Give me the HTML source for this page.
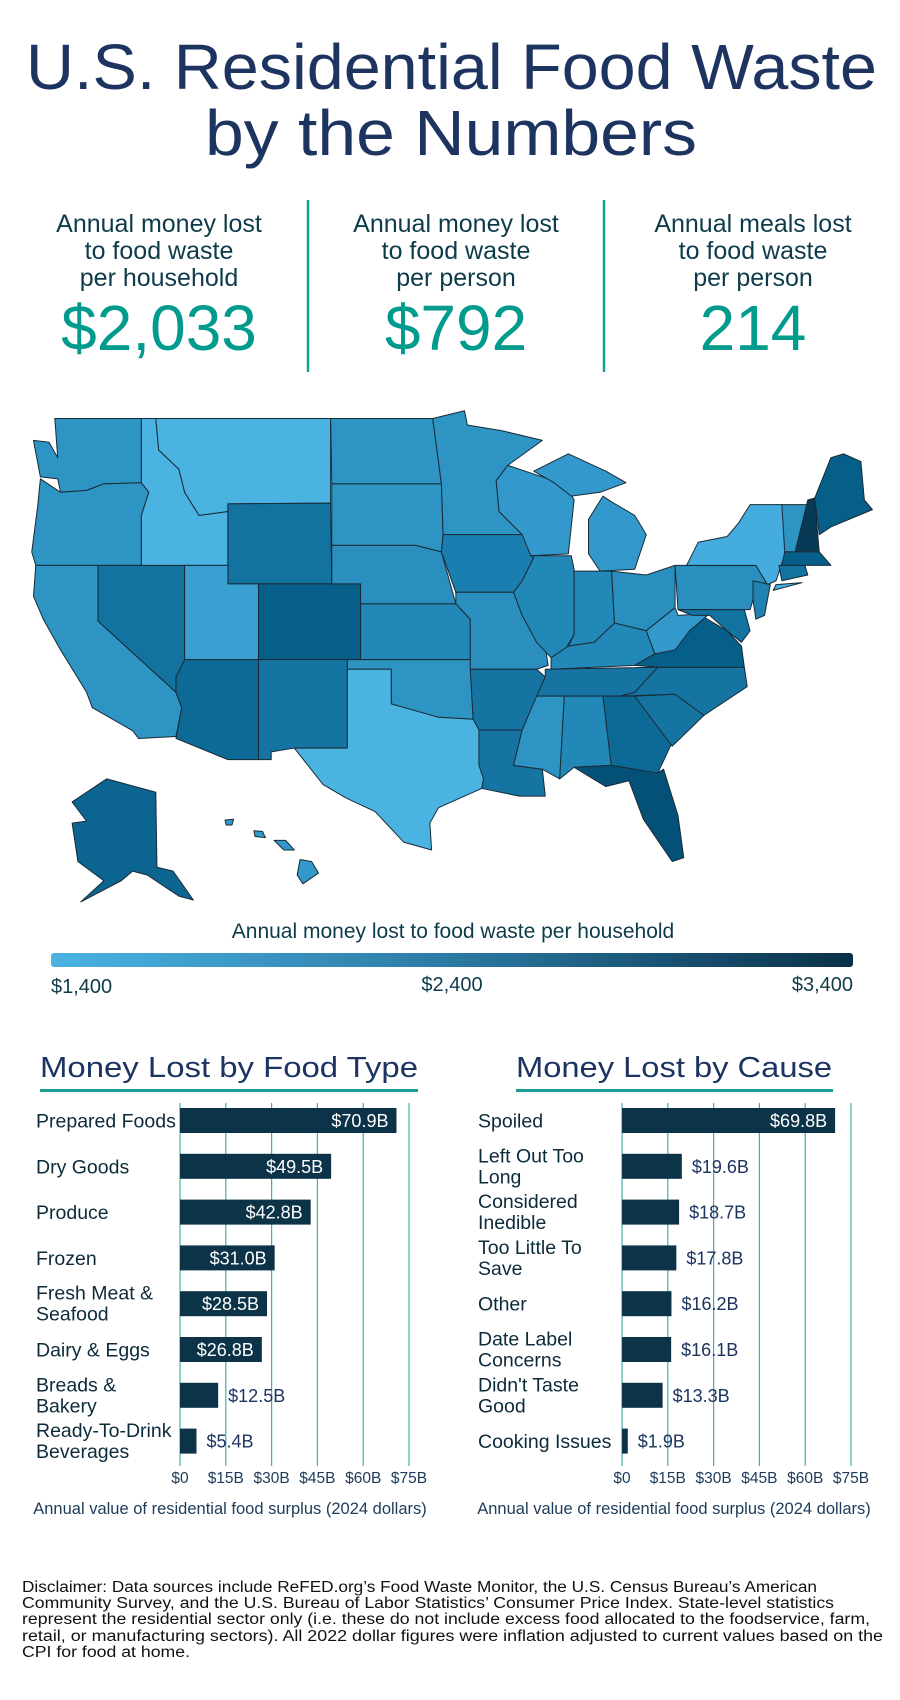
<!DOCTYPE html>
<html><head><meta charset="utf-8"><style>
html,body{margin:0;padding:0;background:#fff}
svg{display:block}
text{font-family:"Liberation Sans",sans-serif}
</style></head><body>
<svg id="page" width="900" height="1700" viewBox="0 0 900 1700" xmlns="http://www.w3.org/2000/svg">
<defs>
<linearGradient id="lg" x1="0" x2="1" y1="0" y2="0">
<stop offset="0" stop-color="#4ab3e2"/><stop offset="0.5" stop-color="#2b7aa3"/><stop offset="1" stop-color="#0a3048"/>
</linearGradient>
</defs>
<rect width="900" height="1700" fill="#fff"/>
<g fill="#1d3461">
<text x="26" y="89" font-size="64" textLength="851" lengthAdjust="spacingAndGlyphs">U.S. Residential Food Waste</text>
<text x="205" y="155" font-size="64" textLength="492" lengthAdjust="spacingAndGlyphs">by the Numbers</text>
</g>
<g text-anchor="middle">
<g>
<text x="159" y="232" font-size="25" fill="#0d3b4a">Annual money lost</text>
<text x="159" y="259" font-size="25" fill="#0d3b4a">to food waste</text>
<text x="159" y="286" font-size="25" fill="#0d3b4a">per household</text>
<text x="159" y="350" font-size="64" fill="#009b8d">$2,033</text>
</g>
<line x1="308" y1="200" x2="308" y2="372" stroke="#12a092" stroke-width="2.5"/>
<g>
<text x="456" y="232" font-size="25" fill="#0d3b4a">Annual money lost</text>
<text x="456" y="259" font-size="25" fill="#0d3b4a">to food waste</text>
<text x="456" y="286" font-size="25" fill="#0d3b4a">per person</text>
<text x="456" y="350" font-size="64" fill="#009b8d">$792</text>
</g>
<line x1="604" y1="200" x2="604" y2="372" stroke="#12a092" stroke-width="2.5"/>
<g>
<text x="753" y="232" font-size="25" fill="#0d3b4a">Annual meals lost</text>
<text x="753" y="259" font-size="25" fill="#0d3b4a">to food waste</text>
<text x="753" y="286" font-size="25" fill="#0d3b4a">per person</text>
<text x="753" y="350" font-size="64" fill="#009b8d">214</text>
</g>
</g>

<g id="map" transform="translate(0,400) scale(0.577,0.3846)" stroke="#1a2a35" stroke-width="1" stroke-linejoin="round"></g>

<g>
<text x="453" y="938" font-size="21" text-anchor="middle" fill="#0d3b4a">Annual money lost to food waste per household</text>
<rect x="51" y="953" width="802" height="14" rx="3" fill="url(#lg)"/>
<text x="51" y="993" font-size="20" fill="#0d3b4a">$1,400</text>
<text x="452" y="991" font-size="20" text-anchor="middle" fill="#0d3b4a">$2,400</text>
<text x="853" y="991" font-size="20" text-anchor="end" fill="#0d3b4a">$3,400</text>
</g>

<g id="chart1">
<text x="40" y="1077" font-size="29" fill="#1d3461" textLength="378" lengthAdjust="spacingAndGlyphs">Money Lost by Food Type</text>
<rect x="40" y="1089" width="378" height="3" fill="#1a9e91"/>
<text x="230" y="1514" font-size="16.5" text-anchor="middle" fill="#1d3b5a">Annual value of residential food surplus (2024 dollars)</text>
</g>
<g id="chart2">
<text x="516" y="1077" font-size="29" fill="#1d3461" textLength="316" lengthAdjust="spacingAndGlyphs">Money Lost by Cause</text>
<rect x="516" y="1089" width="317" height="3" fill="#1a9e91"/>
<text x="674" y="1514" font-size="16.5" text-anchor="middle" fill="#1d3b5a">Annual value of residential food surplus (2024 dollars)</text>
</g>

<g font-size="15.5" fill="#111">
<text x="22" y="1592" textLength="795" lengthAdjust="spacingAndGlyphs">Disclaimer: Data sources include ReFED.org’s Food Waste Monitor, the U.S. Census Bureau’s American</text>
<text x="22" y="1608" textLength="812" lengthAdjust="spacingAndGlyphs">Community Survey, and the U.S. Bureau of Labor Statistics’ Consumer Price Index. State-level statistics</text>
<text x="22" y="1624" textLength="848" lengthAdjust="spacingAndGlyphs">represent the residential sector only (i.e. these do not include excess food allocated to the foodservice, farm,</text>
<text x="22" y="1641" textLength="861" lengthAdjust="spacingAndGlyphs">retail, or manufacturing sectors). All 2022 dollar figures were inflation adjusted to current values based on the</text>
<text x="22" y="1657" textLength="168" lengthAdjust="spacingAndGlyphs">CPI for food at home.</text>
</g>
</svg>
<script>
const foodCategories = [["Prepared Foods"],["Dry Goods"],["Produce"],["Frozen"],["Fresh Meat &","Seafood"],["Dairy & Eggs"],["Breads &","Bakery"],["Ready-To-Drink","Beverages"]];
const foodValues = [70.9,49.5,42.8,31.0,28.5,26.8,12.5,5.4];
const causeCategories = [["Spoiled"],["Left Out Too","Long"],["Considered","Inedible"],["Too Little To","Save"],["Other"],["Date Label","Concerns"],["Didn't Taste","Good"],["Cooking Issues"]];
const causeValues = [69.8,19.6,18.7,17.8,16.2,16.1,13.3,1.9];
const tickValues = [0,15,30,45,60,75];
const tickLabels = ["$0","$15B","$30B","$45B","$60B","$75B"];

const NS = "http://www.w3.org/2000/svg";
function mk(tag, attrs, parent){const e=document.createElementNS(NS,tag);for(const k in attrs)e.setAttribute(k,attrs[k]);parent.appendChild(e);return e;}

function drawChart(gid, cats, vals, x0, labelX, prefix){
  const g = document.getElementById(gid);
  const pxPer = 45.8/15;
  const xs = v => x0 + v*pxPer;
  const top = 1108, step = 45.8, bh = 25;
  const ys = i => top + i*step;
  tickValues.forEach((t,i)=>{
    const l = mk('line',{x1:xs(t),x2:xs(t),y1:1103,y2:1466,stroke:'#3db3a6','stroke-width':1.2},g);
    
    
    const tx = mk('text',{x:xs(t),y:1483,'font-size':15.5,'text-anchor':'middle',fill:'#1d3b5a'},g);
    tx.textContent = tickLabels[i];
    
    
  });
  vals.forEach((v,i)=>{
    const y = ys(i);
    const r = mk('rect',{x:xs(0),y:y,width:xs(v)-xs(0),height:bh,fill:'#0c3347'},g);
    
    
    const lbl = '$'+v.toFixed(1)+'B';
    const inside = v >= 25;
    const t = mk('text',{x: inside? xs(v)-8 : xs(v)+10, y:y+19,'font-size':18,'text-anchor': inside?'end':'start',fill: inside?'#fff':'#1d3461'},g);
    t.textContent = lbl;
    
    
    const c = cats[i];
    const cy = y + bh/2;
    c.forEach((line,j)=>{
      const yy = c.length===1 ? cy+7 : cy-4 + j*21;
      const ct = mk('text',{x:labelX,y:yy,'font-size':19.5,fill:'#0d2a3a'},g);
      ct.textContent = line;
      
      
    });
  });
}
drawChart('chart1', foodCategories, foodValues, 180, 36, 'food-type');
drawChart('chart2', causeCategories, causeValues, 622, 478, 'cause');

const states = [
 ["WA","#2d94c3","95,48 245,48 245,215 180,218 150,235 105,240 100,205 70,200 58,105 85,110 100,150"],
 ["OR","#2d94c3","70,205 105,240 150,235 180,218 245,215 258,240 245,300 245,430 62,430 55,395 65,280"],
 ["CA","#2d94c3","62,430 170,430 170,575 305,760 315,800 305,875 240,880 230,860 160,800 150,760 105,650 75,570 58,510"],
 ["NV","#1272a0","170,430 320,430 320,680 305,720 305,760 170,575"],
 ["ID","#4ab3e2","245,48 270,48 275,130 310,180 320,240 345,300 395,290 395,430 245,430 245,300 258,240 245,215"],
 ["MT","#4ab3e2","270,48 573,48 573,268 395,270 395,290 345,300 320,240 310,180 275,130"],
 ["WY","#1272a0","395,270 573,268 575,478 395,478"],
 ["UT","#389fd0","320,430 395,430 395,478 448,478 448,675 320,675"],
 ["CO","#065f88","448,478 625,478 625,675 448,675"],
 ["AZ","#0d6a96","320,675 448,675 448,935 395,935 305,880 315,800 305,760 305,720"],
 ["NM","#1674a3","448,675 602,675 602,905 510,905 470,915 470,935 448,935"],
 ["ND","#2d94c3","573,48 750,48 765,218 575,218"],
 ["SD","#2d94c3","575,218 765,218 768,350 765,395 720,378 575,378"],
 ["NE","#2a8fbe","575,378 720,378 765,395 790,530 625,530 625,478 575,478"],
 ["KS","#2288b8","625,530 790,530 815,570 815,675 625,675"],
 ["OK","#2d94c3","602,675 815,675 820,830 760,825 700,800 678,790 678,700 602,700"],
 ["TX","#4ab3e2","602,700 678,700 678,790 760,825 820,830 830,840 838,985 835,1010 760,1060 745,1100 748,1170 700,1150 650,1070 600,1035 560,1000 510,905 602,905"],
 ["MN","#2d94c3","750,48 805,28 810,65 870,80 940,105 880,170 860,210 865,290 905,350 768,350 765,218"],
 ["IA","#1a7fb0","768,350 905,350 925,410 905,470 890,500 790,500 765,395"],
 ["MO","#2a8fbe","790,500 890,500 905,560 945,640 950,690 930,700 815,700 815,570 790,530"],
 ["AR","#1674a3","815,700 930,700 945,720 905,858 830,858 820,830"],
 ["LA","#1674a3","830,858 905,858 890,950 940,960 945,1030 900,1030 835,1010 838,985 830,950"],
 ["WI","#3399cc","860,210 880,170 920,190 980,220 995,260 985,400 920,405 905,350 865,290"],
 ["IL","#2288b8","920,405 990,405 995,440 995,610 975,660 955,670 930,630 905,560 890,500 905,470 925,410"],
 ["MI-upper","#3399cc","925,185 985,140 1050,185 1085,215 1040,240 990,250 960,215"],
 ["MI","#3399cc","1020,310 1045,250 1060,265 1100,300 1120,350 1100,440 1040,445 1020,400"],
 ["IN","#2288b8","995,445 1060,445 1065,580 1030,630 985,640 995,610"],
 ["OH","#2a8fbe","1060,445 1120,455 1170,430 1170,540 1120,600 1065,580"],
 ["KY","#2288b8","985,640 1030,630 1065,580 1120,600 1135,660 1100,690 955,700 955,670"],
 ["TN","#1674a3","945,700 1140,695 1100,760 1075,770 930,770 945,720"],
 ["MS","#2d94c3","930,770 978,770 970,985 940,960 890,950 905,858"],
 ["AL","#2288b8","978,770 1045,770 1060,950 995,955 970,985"],
 ["GA","#0d6a96","1045,770 1100,770 1165,890 1140,970 1060,960"],
 ["FL","#045178","995,955 1060,950 1140,970 1150,960 1175,1080 1185,1190 1165,1200 1115,1090 1090,990 1050,1005"],
 ["SC","#1674a3","1100,770 1170,765 1220,820 1165,900"],
 ["NC","#1674a3","1100,760 1140,695 1290,695 1295,745 1220,820 1170,765 1075,770"],
 ["VA","#065f88","1100,690 1135,660 1195,600 1215,560 1260,600 1285,640 1290,695 1140,695"],
 ["WV","#3399cc","1120,600 1170,540 1175,560 1230,555 1195,600 1170,650 1135,660"],
 ["PA","#2a8fbe","1170,430 1310,430 1330,480 1305,520 1300,545 1175,545"],
 ["NY","#45ace0","1190,430 1210,370 1260,355 1280,320 1300,272 1355,272 1365,380 1345,470 1330,480 1310,430"],
 ["MD","#1272a0","1175,545 1290,545 1300,600 1285,630 1260,600 1230,560 1200,560"],
 ["NJ","#1f82b3","1305,470 1335,480 1325,560 1310,570 1305,520"],
 ["VT","#2d94c3","1355,272 1400,272 1395,330 1385,395 1360,395"],
 ["NH","#063a56","1400,260 1412,255 1420,400 1378,395"],
 ["ME","#065f88","1412,255 1440,150 1462,140 1492,160 1498,260 1512,285 1440,330 1420,350"],
 ["MA","#065f88","1360,395 1420,395 1440,430 1395,430 1355,430"],
 ["CT","#1272a0","1350,430 1395,430 1400,455 1355,470"],
 ["LI","#45ace0","1345,480 1390,475 1340,495"],
 ["AK","#0b6590","125,1045 185,985 270,1020 272,1215 300,1225 335,1300 310,1290 255,1235 230,1225 210,1250 140,1305 180,1250 135,1200 125,1100 150,1095"],
 ["HI-1","#3399cc","390,1092 405,1090 402,1105 392,1105"],
 ["HI-2","#3399cc","440,1120 455,1122 460,1138 442,1135"],
 ["HI-3","#3399cc","475,1145 495,1145 510,1170 492,1170"],
 ["HI-4","#3399cc","520,1195 540,1200 552,1230 525,1258 515,1235"]
];
const mapG = document.getElementById('map');
states.forEach(s=>{
  const p = mk('polygon',{points:s[2],fill:s[1],'vector-effect':'non-scaling-stroke'},mapG);
  
  
});
</script>
</body></html>
